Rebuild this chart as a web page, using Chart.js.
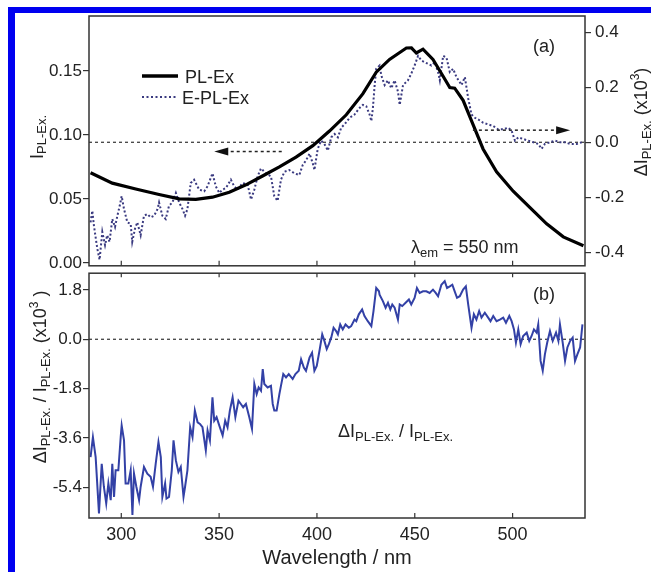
<!DOCTYPE html>
<html lang="en">
<head>
<meta charset="UTF-8">
<title>PL-Ex / E-PL-Ex spectra</title>
<script src="https://cdn.jsdelivr.net/npm/chart.js"></script>
<style>
  body { margin: 0; background: #fff; }
  #wrap { position: relative; width: 651px; height: 572px; overflow: hidden; background: #fff; }
  #topBar { position: absolute; left: 8px; top: 7px; width: 643px; height: 6px; background: #0000f0; }
  #leftBar { position: absolute; left: 8px; top: 7px; width: 7px; height: 565px; background: #0000f0; }
  canvas { position: absolute; left: 0; }
</style>
</head>
<body>
<div id="wrap">
  <div id="topBar"></div>
  <div id="leftBar"></div>
  <canvas id="chartA" width="651" height="280" style="top:0"></canvas>
  <canvas id="chartB" width="651" height="310" style="top:262px"></canvas>
</div>

<script>
// x range (nm) and tick labels
const xTicks = [300, 350, 400, 450, 500];
const xTickLabels = ['300', '350', '400', '450', '500'];

// panel (a) left axis: I PL-Ex.
const leftTicks = [0, 0.05, 0.10, 0.15];
const leftTickLabels = ['0.00', '0.05', '0.10', '0.15'];
// panel (a) right axis: delta I (x10^3)
const rightTicks = [-0.4, -0.2, 0, 0.2, 0.4];
const rightTickLabels = ['-0.4', '-0.2', '0.0', '0.2', '0.4'];
// panel (b) axis
const ratioTicks = [-5.4, -3.6, -1.8, 0, 1.8];
const ratioTickLabels = ['-5.4', '-3.6', '-1.8', '0.0', '1.8'];

// PL-Ex (solid black, left axis)
const plWavelength = [284.3, 295.4, 307.4, 319.3, 329.6, 338.1, 346.6, 355.2, 363.7, 372.2, 380.8, 389.3, 397.9, 406.4, 415.0, 423.5, 430.3, 437.1, 445.7, 448.3, 450.8, 454.2, 459.3, 464.4, 467.9, 470.4, 474.7, 479.8, 484.9, 491.8, 500.3, 508.9, 517.4, 525.9, 536.2];
const plEx = [0.0704, 0.0623, 0.0577, 0.0534, 0.0500, 0.0496, 0.0513, 0.0552, 0.0610, 0.0679, 0.0750, 0.0826, 0.0916, 0.1030, 0.1157, 0.1322, 0.1490, 0.1590, 0.1679, 0.1680, 0.1640, 0.1670, 0.1590, 0.1460, 0.1370, 0.1365, 0.1270, 0.1080, 0.0890, 0.0712, 0.0560, 0.0432, 0.0305, 0.0203, 0.0134];

// E-PL-Ex (dotted, right axis)
const eplWavelength = [284.3, 285.2, 286.0, 287.7, 288.9, 290.3, 291.7, 292.8, 294.0, 295.4, 296.8, 298.0, 299.2, 300.2, 301.4, 303.1, 304.8, 305.6, 307.0, 308.2, 309.9, 311.6, 313.3, 315.0, 316.8, 318.5, 319.3, 321.0, 322.7, 324.4, 326.1, 327.9, 329.6, 331.3, 332.6, 333.8, 335.5, 337.2, 339.8, 342.4, 344.1, 346.6, 348.3, 350.1, 351.8, 353.5, 356.0, 357.7, 359.4, 362.0, 364.6, 366.3, 368.0, 369.7, 371.4, 374.0, 376.5, 378.2, 379.9, 381.6, 383.4, 385.9, 388.5, 391.0, 392.7, 394.5, 396.2, 397.9, 398.7, 400.4, 402.1, 403.8, 405.6, 407.3, 409.0, 410.7, 412.4, 414.1, 416.7, 419.2, 421.8, 423.5, 425.2, 426.9, 427.8, 428.6, 429.5, 430.3, 432.0, 432.9, 434.6, 436.3, 438.0, 439.7, 441.4, 442.3, 444.0, 446.5, 448.2, 449.9, 451.7, 453.4, 455.1, 456.8, 458.5, 460.2, 461.9, 462.8, 464.5, 466.2, 467.9, 469.6, 471.3, 473.9, 475.6, 477.3, 479.0, 480.7, 482.4, 485.0, 487.5, 490.1, 492.6, 495.2, 497.8, 499.5, 501.2, 502.9, 505.4, 508.0, 510.6, 513.1, 514.8, 516.5, 519.1, 521.7, 524.2, 526.8, 529.4, 532.8, 535.3];
const ePlEx = [-0.291, -0.249, -0.302, -0.385, -0.427, -0.326, -0.374, -0.338, -0.362, -0.279, -0.308, -0.267, -0.231, -0.196, -0.243, -0.291, -0.297, -0.362, -0.314, -0.291, -0.338, -0.267, -0.261, -0.273, -0.267, -0.243, -0.219, -0.267, -0.279, -0.231, -0.219, -0.184, -0.219, -0.243, -0.267, -0.243, -0.148, -0.136, -0.172, -0.178, -0.160, -0.113, -0.160, -0.184, -0.172, -0.166, -0.136, -0.160, -0.172, -0.148, -0.154, -0.208, -0.172, -0.124, -0.095, -0.113, -0.124, -0.196, -0.213, -0.136, -0.107, -0.101, -0.113, -0.119, -0.083, -0.065, -0.041, -0.077, -0.101, -0.024, 0.006, -0.006, -0.030, 0.018, 0.030, 0.018, 0.053, 0.065, 0.089, 0.101, 0.125, 0.136, 0.131, 0.101, 0.077, 0.125, 0.208, 0.267, 0.279, 0.243, 0.208, 0.225, 0.196, 0.225, 0.184, 0.136, 0.208, 0.225, 0.249, 0.279, 0.314, 0.297, 0.291, 0.285, 0.279, 0.291, 0.255, 0.225, 0.314, 0.308, 0.255, 0.267, 0.237, 0.208, 0.237, 0.160, 0.101, 0.089, 0.083, 0.071, 0.065, 0.059, 0.047, 0.047, 0.053, 0.042, 0.006, 0.018, 0.012, 0.006, 0.000, -0.006, -0.024, -0.006, 0.000, 0.006, 0.000, 0.000, -0.006, -0.006, 0.000];

// panel (b): delta I / I (x10^3)
const ratioWavelength = [284.3, 285.5, 286.9, 288.6, 290.0, 291.1, 292.3, 293.4, 294.6, 295.4, 296.3, 297.1, 298.5, 299.7, 300.2, 301.4, 302.2, 303.6, 304.8, 305.7, 306.5, 307.7, 309.1, 309.9, 311.6, 313.3, 315.0, 316.2, 317.6, 319.0, 320.2, 321.0, 322.4, 323.1, 324.4, 325.8, 326.7, 327.9, 329.2, 330.4, 331.8, 332.6, 333.8, 335.2, 336.4, 337.6, 339.0, 340.2, 341.5, 343.2, 344.1, 345.3, 346.6, 347.5, 348.7, 350.1, 351.8, 353.1, 354.3, 355.5, 356.9, 358.3, 359.9, 361.1, 362.3, 363.7, 365.4, 366.8, 368.0, 369.2, 370.2, 371.4, 372.3, 373.1, 374.8, 376.5, 377.4, 378.2, 379.4, 380.8, 381.6, 382.8, 384.2, 385.6, 387.6, 389.0, 390.7, 391.9, 393.3, 394.4, 396.2, 397.5, 398.7, 399.9, 401.3, 402.7, 403.8, 405.0, 406.1, 407.3, 408.5, 409.8, 410.7, 411.9, 413.2, 414.6, 416.3, 417.5, 419.2, 420.1, 421.4, 423.1, 424.3, 426.0, 427.8, 428.9, 430.3, 431.7, 432.0, 433.7, 435.1, 436.3, 437.5, 438.5, 439.7, 441.4, 442.3, 443.6, 445.3, 447.0, 448.2, 449.9, 451.1, 452.5, 454.2, 455.9, 457.6, 459.3, 460.7, 461.9, 463.6, 465.3, 466.5, 467.9, 469.2, 470.4, 471.6, 473.0, 474.7, 476.1, 477.3, 479.0, 480.2, 481.5, 482.9, 484.1, 485.8, 487.5, 488.7, 490.1, 491.8, 493.5, 495.2, 496.6, 498.3, 499.5, 500.7, 501.7, 502.9, 504.1, 505.4, 507.2, 508.5, 509.7, 510.9, 512.3, 513.1, 514.3, 515.4, 516.5, 517.7, 519.1, 520.5, 522.2, 523.4, 524.2, 525.6, 526.8, 528.0, 529.4, 530.7, 531.9, 533.1, 534.5, 535.7];
const ratio = [-4.30, -3.57, -4.30, -6.35, -4.54, -5.38, -5.99, -5.26, -5.87, -4.54, -5.75, -4.78, -4.78, -3.57, -3.15, -3.69, -5.26, -5.26, -4.78, -6.41, -4.90, -5.38, -5.87, -5.38, -4.66, -4.90, -5.02, -5.38, -4.54, -3.75, -4.30, -5.75, -5.26, -5.81, -5.75, -4.78, -3.69, -4.42, -4.84, -4.66, -5.75, -5.38, -4.78, -3.21, -3.57, -2.60, -3.03, -3.09, -3.21, -4.05, -3.33, -3.69, -2.12, -2.97, -2.84, -3.15, -3.51, -2.97, -3.21, -2.60, -2.12, -2.84, -2.24, -2.36, -2.48, -2.36, -2.84, -3.27, -1.63, -2.00, -1.76, -1.88, -1.09, -1.63, -1.76, -1.70, -2.36, -2.60, -2.60, -2.00, -1.70, -1.27, -1.39, -1.27, -1.45, -1.27, -1.15, -0.73, -1.03, -1.15, -0.67, -0.49, -1.15, -0.97, -0.42, 0.18, -0.06, -0.36, -0.18, 0.06, 0.42, 0.30, 0.18, 0.54, 0.36, 0.54, 0.42, 0.48, 0.72, 0.66, 0.91, 1.09, 0.85, 0.66, 0.48, 1.03, 1.87, 1.75, 1.63, 1.39, 1.15, 1.33, 1.09, 1.27, 1.15, 0.72, 1.27, 1.21, 1.33, 1.45, 1.27, 1.51, 1.87, 1.69, 1.75, 1.75, 1.69, 1.81, 1.69, 1.57, 1.99, 2.12, 1.87, 1.93, 1.99, 1.75, 1.51, 1.57, 1.81, 1.93, 1.27, 0.42, 0.91, 0.72, 1.03, 0.79, 0.97, 0.79, 0.66, 0.85, 0.66, 0.72, 0.79, 0.60, 0.85, 0.66, 0.36, -0.12, 0.36, -0.18, 0.12, 0.24, -0.06, 0.12, 0.36, 0.24, 0.54, -0.79, -1.15, -0.55, -0.12, 0.30, -0.06, 0.24, -0.06, 0.54, -0.12, -0.79, -0.30, -0.06, 0.06, -0.79, -0.55, -0.30, 0.54];

const xMin = 283.5, xMax = 537;
// arrows in panel (a): [tail x, tip x, y]
const arrowLeft = [382, 347.5, 0.087];   // points to left axis
const arrowRight = [479.7, 529.4, 0.044]; // points to right axis

const FONT = "'Liberation Sans', Arial, Helvetica, sans-serif";
const INK = '#222';
Chart.defaults.font.family = FONT;
Chart.defaults.color = INK;

function pts(xs, ys) {
    return xs.map((x, i) => ({ x: x, y: ys[i] }));
}

// draws text made of pieces (normal / sub / superscript), optionally rotated
function richText(ctx, x, y, parts, rotate, center) {
    ctx.save();
    ctx.translate(x, y);
    if (rotate) ctx.rotate(-Math.PI / 2);
    ctx.fillStyle = INK;
    ctx.textAlign = 'left';
    ctx.textBaseline = 'alphabetic';
    let total = 0;
    parts.forEach(p => { ctx.font = p[1] + 'px ' + FONT; total += ctx.measureText(p[0]).width; });
    let cx = center ? -total / 2 : 0;
    parts.forEach(p => {
        ctx.font = p[1] + 'px ' + FONT;
        ctx.fillText(p[0], cx, p[2] || 0);
        cx += ctx.measureText(p[0]).width;
    });
    ctx.restore();
}

function drawArrow(ctx, x1, x2, y) {
    const dir = Math.sign(x2 - x1);
    ctx.save();
    ctx.strokeStyle = INK;
    ctx.lineWidth = 1.5;
    ctx.setLineDash([3, 3]);
    ctx.beginPath();
    ctx.moveTo(x1, y);
    ctx.lineTo(x2 - dir * 12, y);
    ctx.stroke();
    ctx.setLineDash([]);
    ctx.fillStyle = '#111';
    ctx.beginPath();
    ctx.moveTo(x2, y);
    ctx.lineTo(x2 - dir * 14, y - 4);
    ctx.lineTo(x2 - dir * 14, y + 4);
    ctx.closePath();
    ctx.fill();
    ctx.restore();
}

function frameAndTicks(chart, up, down) {
    const { ctx, chartArea: a, scales } = chart;
    ctx.save();
    ctx.strokeStyle = '#333';
    ctx.lineWidth = 1.5;
    ctx.strokeRect(a.left, a.top, a.right - a.left, a.bottom - a.top);
    ctx.lineWidth = 1.2;
    xTicks.forEach(v => {
        const px = scales.x.getPixelForValue(v);
        ctx.beginPath();
        if (up) { ctx.moveTo(px, a.bottom); ctx.lineTo(px, a.bottom - 5); }
        if (down) { ctx.moveTo(px, a.top); ctx.lineTo(px, a.top + 4); }
        ctx.stroke();
    });
    ctx.restore();
}

function yAxis(position, min, max, ticks, labels, width) {
    return {
        type: 'linear',
        position: position,
        min: min,
        max: max,
        afterBuildTicks: axis => { axis.ticks = ticks.map(v => ({ value: v })); },
        afterFit: axis => { axis.width = width; },
        ticks: {
            callback: (v, i) => labels[i],
            font: { size: 17 },
            color: INK,
            padding: position === 'left' ? 1 : 4
        },
        grid: { drawOnChartArea: false, drawTicks: true, tickLength: 6, color: '#333', lineWidth: 1.2 },
        border: { display: false }
    };
}

// ---- panel (a) ----
const decorA = {
    id: 'decorA',
    afterDraw(chart) {
        const ctx = chart.ctx;
        const s = chart.scales;
        frameAndTicks(chart, true, false);
        drawArrow(ctx, s.x.getPixelForValue(arrowLeft[0]), s.x.getPixelForValue(arrowLeft[1]), s.y.getPixelForValue(arrowLeft[2]));
        drawArrow(ctx, s.x.getPixelForValue(arrowRight[0]), s.x.getPixelForValue(arrowRight[1]), s.y2.getPixelForValue(arrowRight[2]));

        // legend
        ctx.save();
        ctx.strokeStyle = '#000';
        ctx.lineWidth = 3.5;
        ctx.beginPath(); ctx.moveTo(142, 76); ctx.lineTo(178, 76); ctx.stroke();
        ctx.strokeStyle = '#3a3a80';
        ctx.lineWidth = 2;
        ctx.setLineDash([2, 2.5]);
        ctx.beginPath(); ctx.moveTo(142, 97); ctx.lineTo(178, 97); ctx.stroke();
        ctx.restore();
        richText(ctx, 185, 83, [['PL-Ex', 18]]);
        richText(ctx, 182, 104, [['E-PL-Ex', 18]]);

        richText(ctx, 533, 52, [['(a)', 18]]);
        richText(ctx, 411, 253, [['\u03bb', 18], ['em', 13, 4], [' = 550 nm', 18]]);

        // axis titles
        richText(ctx, 43, 137, [['I', 18], ['PL-Ex.', 13, 3]], true, true);
        richText(ctx, 647, 122, [['\u0394I', 18], ['PL-Ex.', 13, 4], [' (x10', 18], ['3', 12, -8], [')', 18]], true, true);
    }
};

new Chart(document.getElementById('chartA'), {
    type: 'line',
    data: {
        datasets: [
            {
                label: 'PL-Ex',
                data: pts(plWavelength, plEx),
                yAxisID: 'y',
                borderColor: '#000',
                borderWidth: 3.2,
                pointRadius: 0
            },
            {
                label: 'E-PL-Ex',
                data: pts(eplWavelength, ePlEx),
                yAxisID: 'y2',
                borderColor: '#3a3a80',
                borderWidth: 2,
                borderDash: [2, 2.2],
                pointRadius: 0
            },
            {
                label: 'zero',
                data: [{ x: xMin, y: 0 }, { x: xMax, y: 0 }],
                yAxisID: 'y2',
                borderColor: '#333',
                borderWidth: 1.2,
                borderDash: [3, 3],
                pointRadius: 0
            }
        ]
    },
    options: {
        responsive: false,
        animation: false,
        devicePixelRatio: 1,
        layout: { padding: { top: 16, bottom: 9, left: 0, right: 0 } },
        plugins: { legend: { display: false }, tooltip: { enabled: false } },
        scales: {
            x: { type: 'linear', min: xMin, max: xMax, display: false },
            y: yAxis('left', -0.0023, 0.1929, leftTicks, leftTickLabels, 89),
            y2: yAxis('right', -0.449, 0.459, rightTicks, rightTickLabels, 66)
        }
    },
    plugins: [decorA]
});

// ---- panel (b) ----
const decorB = {
    id: 'decorB',
    afterDraw(chart) {
        const ctx = chart.ctx;
        frameAndTicks(chart, true, true);
        richText(ctx, 533, 38, [['(b)', 18]]);
        richText(ctx, 338, 175, [['\u0394I', 18], ['PL-Ex.', 13, 4], [' / I', 18], ['PL-Ex.', 13, 4]]);
        richText(ctx, 46, 115, [['\u0394I', 18], ['PL-Ex.', 13, 4], [' / I', 18], ['PL-Ex.', 13, 4],
            [' (x10', 18], ['3', 12, -8], [' )', 18]], true, true);
    }
};

new Chart(document.getElementById('chartB'), {
    type: 'line',
    data: {
        datasets: [
            {
                label: 'ratio',
                data: pts(ratioWavelength, ratio),
                yAxisID: 'y',
                borderColor: '#3341a6',
                borderWidth: 2,
                pointRadius: 0
            },
            {
                label: 'zero',
                data: [{ x: xMin, y: 0 }, { x: xMax, y: 0 }],
                yAxisID: 'y',
                borderColor: '#333',
                borderWidth: 1.2,
                borderDash: [3, 3],
                pointRadius: 0
            }
        ]
    },
    options: {
        responsive: false,
        animation: false,
        devicePixelRatio: 1,
        layout: { padding: { top: 10, bottom: 0, left: 0, right: 66 } },
        plugins: { legend: { display: false }, tooltip: { enabled: false } },
        scales: {
            x: {
                type: 'linear',
                position: 'bottom',
                min: xMin,
                max: xMax,
                afterBuildTicks: axis => { axis.ticks = xTicks.map(v => ({ value: v })); },
                afterFit: axis => { axis.height = 54; },
                ticks: {
                    callback: (v, i) => xTickLabels[i],
                    font: { size: 18 },
                    color: INK,
                    padding: 6,
                    maxRotation: 0
                },
                grid: { display: false, drawTicks: false },
                border: { display: false },
                title: {
                    display: true,
                    text: 'Wavelength / nm',
                    font: { size: 20 },
                    color: INK,
                    padding: { top: 0, bottom: 2 }
                }
            },
            y: yAxis('left', -6.52, 2.41, ratioTicks, ratioTickLabels, 89)
        }
    },
    plugins: [decorB]
});
</script>
</body>
</html>
